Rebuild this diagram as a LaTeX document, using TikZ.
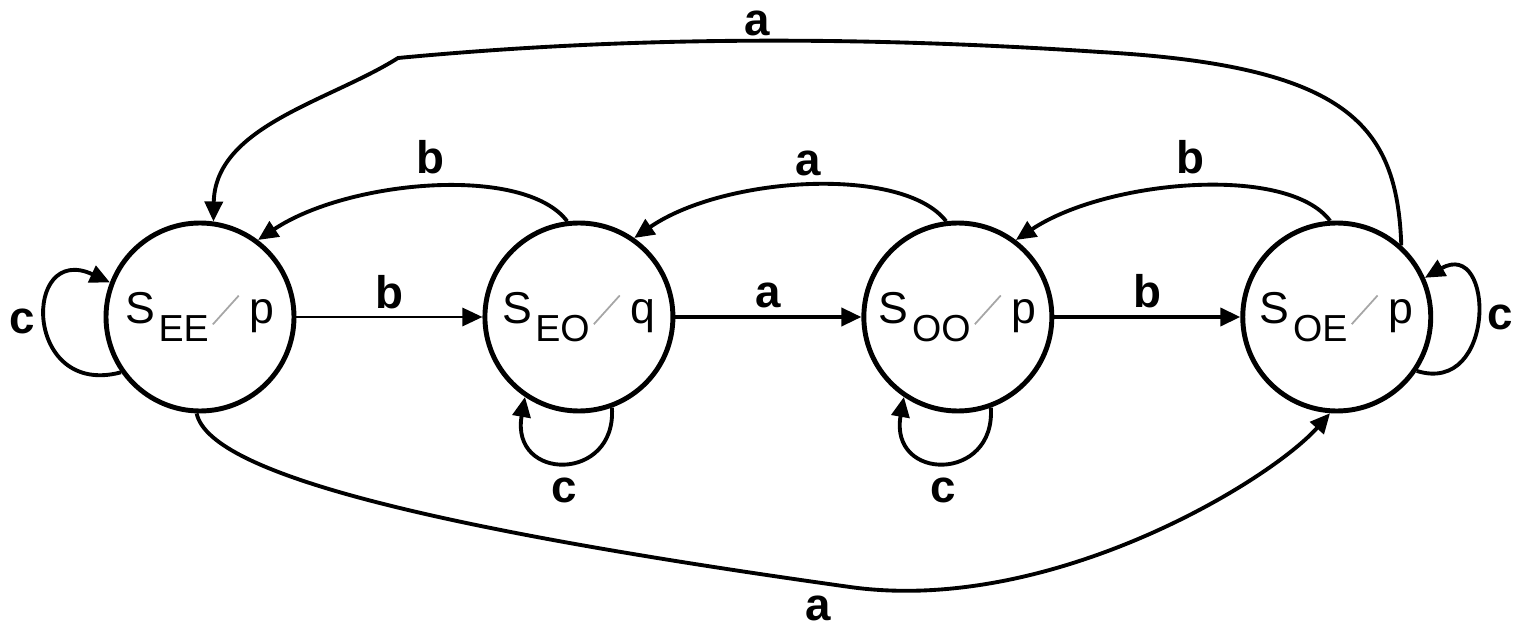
\documentclass[tikz,border=0pt]{standalone}
\usepackage{fontspec}
\setmainfont{Liberation Sans}
\usetikzlibrary{positioning, arrows.meta}
\newcommand{\stname}[2]{{\fontsize{12.7}{14}\selectfont S\kern1pt\raisebox{-5pt}{\fontsize{10.7}{12}\selectfont #1}\kern1pt{\color{black!35}\rotatebox{-42}{\rule{0.5pt}{11pt}}}\kern3pt#2}}
\tikzset{
  state/.style={circle, draw, line width=1.4pt, minimum size=1.88cm, inner sep=0pt},
  trans/.style={line width=1.1pt, -{Triangle[length=2mm,width=1.8mm]}},
  lab/.style={font=\fontsize{13}{15}\selectfont\bfseries, inner sep=2pt},
}

\begin{document}
\begin{tikzpicture}
  \useasboundingbox (0,0) rectangle (15.15,6.26);
  % states
  \node[state] (ee) at (2.00,3.09) {\stname{EE}{p}};
  \node[state, right=1.86cm of ee] (eo) {\stname{EO}{q}};
  \node[state, right=1.86cm of eo] (oo) {\stname{OO}{p}};
  \node[state, right=1.86cm of oo] (oe) {\stname{OE}{p}};
  % straight transitions
  \draw[trans, line width=0.85pt] (ee) -- node[lab, above]{b} (eo);
  \draw[trans] (eo) -- node[lab, above]{a} (oo);
  \draw[trans] (oo) -- node[lab, above]{b} (oe);
  % back arcs
  \draw[trans] (eo.97) .. controls +(-0.43,0.57) and +(0.9,0.6) .. node[lab, above=1pt]{b} (ee.53);
  \draw[trans] (oo.97) .. controls +(-0.43,0.56) and +(0.9,0.62) .. node[lab, above]{a} (eo.55);
  \draw[trans] (oe.94) .. controls +(-0.43,0.57) and +(0.9,0.6) .. node[lab, above=1pt]{b} (oo.53);
  % long arcs
  \draw[trans] (oe.48) .. controls (13.97,5.0) and (13.5,5.6) .. (11.0,5.74)
    .. controls (8.6,5.9) and (6.3,5.9) .. (3.98,5.68)
    .. controls (3.3,5.25) and (2.15,5.0) .. (ee.82);
  \node[lab, inner sep=0pt] (atop) at (7.57,6.03) {a};
  \draw[trans] (ee.268) .. controls (2.1,1.5) and (4.5,0.95) .. (8.5,0.39)
    .. controls (10.5,0.11) and (12.7,1.45) .. (oe.266);
  \node[lab, inner sep=0pt] (abot) at (8.18,0.18) {a};
  % self loops
  \draw[trans] (ee.215) .. controls +(-0.98,-0.26) and +(-0.88,0.41) .. node[lab, inner sep=0pt, left=2.5pt]{c} (ee.159);
  \draw[trans] (oe.326) .. controls +(0.8,-0.25) and +(0.7,0.4) .. (oe.24);
  \node[lab, inner sep=0pt] (cright) at (15.0,3.09) {c};
  \draw[trans] (eo.290) .. controls +(0.05,-0.75) and +(-0.15,-0.85) .. node[lab, below=2pt]{c} (eo.236);
  \draw[trans] (oo.290) .. controls +(0.05,-0.75) and +(-0.15,-0.85) .. node[lab, below=2pt]{c} (oo.236);
\end{tikzpicture}
\end{document}
